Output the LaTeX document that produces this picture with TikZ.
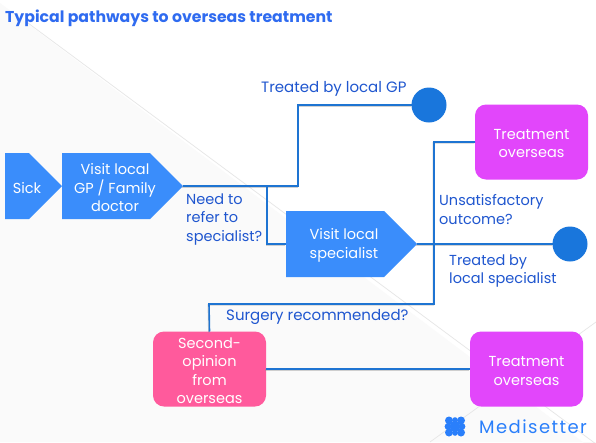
\documentclass[tikz,border=0pt]{standalone}
\usepackage{fontspec}
\setmainfont{Poppins}
\usetikzlibrary{shapes.symbols,calc}
\definecolor{boxblue}{HTML}{3A8DFB}
\definecolor{dotblue}{HTML}{1976DC}
\definecolor{linkblue}{HTML}{1E74D2}
\definecolor{txtblue}{HTML}{1F56CF}
\definecolor{titleblue}{HTML}{2F6BF0}
\definecolor{magentabox}{HTML}{E246FB}
\definecolor{pinkbox}{HTML}{FF5A9C}
\definecolor{bgfaint}{HTML}{FAFAFA}
\definecolor{bgline}{HTML}{E6E6E6}
\definecolor{logoblue}{HTML}{2A7FFB}
\tikzset{
  x=1pt,y=-1pt,
  arrowbox/.style={shape=signal,signal to=east,signal pointer angle=90,fill=boxblue,draw=none,inner sep=0pt,outer sep=0pt,text=white,font=\fontsize{14.5}{18.5}\selectfont,align=center,minimum height=66pt},
  roundbox/.style={rounded corners=11pt,draw=none,inner sep=0pt,outer sep=0pt,text=white,font=\fontsize{14.5}{18.5}\selectfont,align=center,minimum width=113pt,minimum height=75pt},
  dot/.style={circle,fill=dotblue,draw=none,inner sep=0pt,outer sep=0pt,minimum size=35pt},
  conn/.style={draw=linkblue,line width=1.6pt},
  shade line/.style={draw=black!45,line width=1.6pt,opacity=.4,transform canvas={xshift=-.6pt,yshift=-.9pt}},
  boxlab/.style={text=white,font=\fontsize{14.5}{18.5}\selectfont,align=center,inner sep=0pt},
  lab/.style={text=txtblue,font=\fontsize{14.5}{18.5}\selectfont,inner sep=0pt,align=left,anchor=west},
}
\begin{document}
\begin{tikzpicture}
\useasboundingbox (0,0) rectangle (596,442);
% background
\fill[white] (0,0) rectangle (596,442);
\fill[bgfaint] (0,3) -- (596,452) -- (596,442) -- (0,442) -- cycle;
\draw[bgline,line width=.7pt] (28,23) -- (596,444);
\draw[bgline,line width=.7pt] (596,322) -- (430,442);
% nodes
\node[arrowbox,minimum width=57pt] (sick) at (17,186) {};
\node[arrowbox,minimum width=121pt] (gp) at (106,186) {};
\node[arrowbox,minimum width=131pt] (spec) at (335,244) {};
\node[dot] (dota) at (429,105) {};
\node[dot] (dotb) at (570,244) {};
% junctions
\coordinate (j1) at (298,186);
\coordinate (j2) at (298,105);
\coordinate (j3) at (267,186);
\coordinate (j4) at (267,244);
\coordinate (j5) at (434,244);
\coordinate (j6) at (434,142);
\coordinate (j7) at (434,304);
\coordinate (j8) at (209,304);
\node[roundbox,fill=magentabox] (treatA) at (531.5,142) {};
\node[roundbox,fill=magentabox] (treatB) at (526.5,369) {};
\node[roundbox,fill=pinkbox] (second) at (209.5,369) {};
% shadows
\draw[shade line] (gp.east) -- (j1) -- (j2) -- (dota.west);
\draw[shade line] (j3) -- (j4) -- (spec.west);
\draw[shade line] (spec.east) -- (dotb.west);
\draw[shade line] (treatA.west) -- (j6) -- (j7) -- (j8) -- (second.north);
\draw[shade line] (second.east) -- (treatB.west);
% connectors
\draw[conn] (gp.east) -- (j1) -- (j2) -- (dota.west);
\draw[conn] (j3) -- (j4) -- (spec.west);
\draw[conn] (spec.east) -- (dotb.west);
\draw[conn] (treatA.west) -- (j6) -- (j7) -- (j8) -- (second.north);
\draw[conn] (second.east) -- (treatB.west);
% box texts
\node[boxlab] (sicklab) at (27,188) {Sick};
\node[boxlab] (gplab) at (115,188) {Visit local\\GP / Family\\doctor};
\node[boxlab] (speclab) at (344,245.5) {Visit local\\specialist};
\node[boxlab] (ta) at (531.5,143.5) {Treatment\\overseas};
\node[boxlab] (tb) at (526.5,371) {Treatment\\overseas};
\node[boxlab] (so) at (209.5,370.5) {Second-\\opinion\\from\\overseas};
% texts
\node[anchor=west,inner sep=0pt,text=titleblue,font=\fontsize{15.7}{18}\selectfont\bfseries] (title) at (5,18) {Typical pathways to overseas treatment};
\node[lab,font=\fontsize{15}{18.5}\selectfont] (l1) at (261,88.5) {Treated by local GP};
\node[lab] (l2) at (186,219.5) {Need to\\refer to\\specialist?};
\node[lab] (l3) at (439,209.5) {Unsatisfactory\\outcome?};
\node[lab] (l4) at (449,271) {Treated by\\local specialist};
\node[lab,font=\fontsize{15}{18.5}\selectfont] (l5) at (226,316.5) {Surgery recommended?};
% logo
\foreach \cx/\cy/\r in {449/420.5/4,461/420.5/4,449/432.5/4,461/432.5/4,455/420/2.8,455/433/2.8,448/426.5/3.4,462/426.5/3.4,455/426.5/5.5}
  \fill[logoblue] (\cx,\cy) circle (\r);
\node[anchor=west,inner sep=0pt,text=logoblue,font=\fontsize{18}{20}\selectfont\addfontfeatures{LetterSpace=8}] (logo) at (479,427) {Medisetter};
\end{tikzpicture}
\end{document}
